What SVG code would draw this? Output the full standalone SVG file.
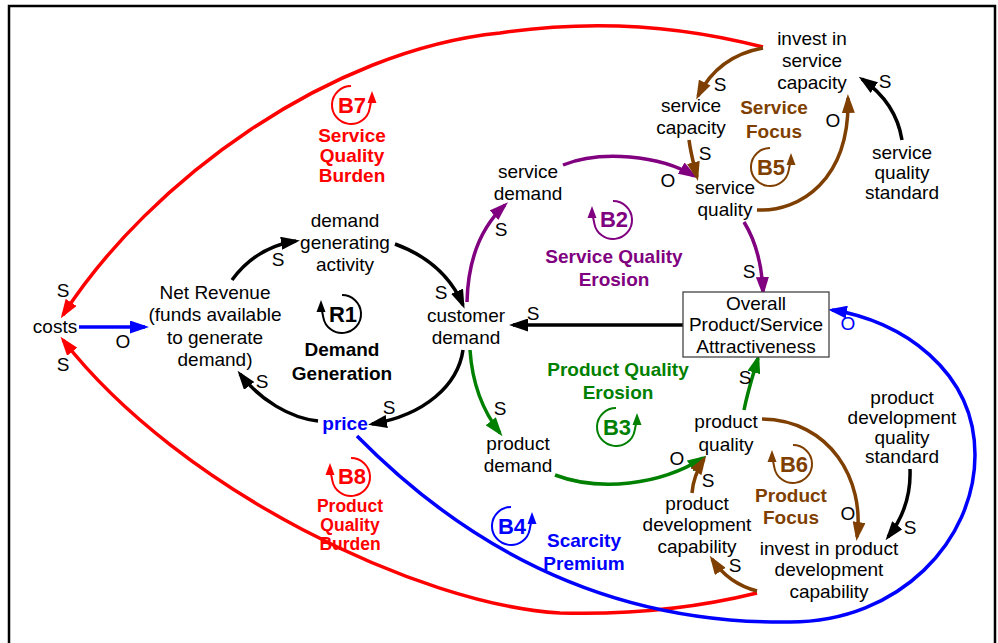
<svg xmlns="http://www.w3.org/2000/svg" width="998" height="643" viewBox="0 0 998 643">
<defs>
<style>
text{font-family:"Liberation Sans",Arial,Helvetica,sans-serif;text-anchor:middle}
.n{font-size:19px;fill:#000}
.b{font-size:19px;font-weight:bold}
.s{font-size:17.5px;font-weight:bold}
.ic{font-size:22px;font-weight:bold}
.c{fill:none;stroke-width:3.5}
.lp{fill:none;stroke-width:2}
.k{stroke:#000}.r{stroke:#FF0000}.u{stroke:#0000FF}.pu{stroke:#800080}.g{stroke:#008000}.br{stroke:#7F3F00}
.fk{fill:#000}.fr{fill:#FF0000}.fu{fill:#0000FF}.fp{fill:#800080}.fg{fill:#008000}.fb{fill:#7F3F00}
</style>
<marker id="ak" markerWidth="19" markerHeight="13" refX="15" refY="6.5" orient="auto" markerUnits="userSpaceOnUse"><path d="M0,0 L19,6.5 L0,13 z" fill="#000"/></marker>
<marker id="ar" markerWidth="19" markerHeight="13" refX="15" refY="6.5" orient="auto" markerUnits="userSpaceOnUse"><path d="M0,0 L19,6.5 L0,13 z" fill="#FF0000"/></marker>
<marker id="au" markerWidth="19" markerHeight="13" refX="15" refY="6.5" orient="auto" markerUnits="userSpaceOnUse"><path d="M0,0 L19,6.5 L0,13 z" fill="#0000FF"/></marker>
<marker id="ap" markerWidth="19" markerHeight="13" refX="15" refY="6.5" orient="auto" markerUnits="userSpaceOnUse"><path d="M0,0 L19,6.5 L0,13 z" fill="#800080"/></marker>
<marker id="ag" markerWidth="19" markerHeight="13" refX="15" refY="6.5" orient="auto" markerUnits="userSpaceOnUse"><path d="M0,0 L19,6.5 L0,13 z" fill="#008000"/></marker>
<marker id="ab" markerWidth="19" markerHeight="13" refX="15" refY="6.5" orient="auto" markerUnits="userSpaceOnUse"><path d="M0,0 L19,6.5 L0,13 z" fill="#7F3F00"/></marker>
</defs>
<rect x="0" y="0" width="998" height="643" fill="#fff"/>
<rect x="9" y="6" width="986" height="680" fill="none" stroke="#000" stroke-width="2.5"/>

<g id="connectors">
<path class="c k" d="M232 280 C248 258 270 245 296 241" marker-end="url(#ak)"/>
<path class="c k" d="M395 244 C425 255 450 275 463 305" marker-end="url(#ak)"/>
<path class="c k" d="M463 350 C458 385 425 415 372 424" marker-end="url(#ak)"/>
<path class="c k" d="M318 421 C290 418 260 400 240 374" marker-end="url(#ak)"/>
<path class="c k" d="M683 325 L513 325" marker-end="url(#ak)"/>
<path class="c k" d="M902 140 C898 115 885 95 862 79" marker-end="url(#ak)"/>
<path class="c k" d="M910 469 C911 495 903 518 888 537" marker-end="url(#ak)"/>
<path class="c r" d="M763 47 C690 28 600 18 500 33 C330 50 150 180 63 315" marker-end="url(#ar)"/>
<path class="c r" d="M757 593 C700 607 630 615 560 613 C420 605 180 490 63 340" marker-end="url(#ar)"/>
<path class="c u" d="M79 327 L145 327" marker-end="url(#au)"/>
<path class="c u" d="M357 436 C420 500 560 625 790 622 C900 622 975 540 975 455 C975 370 900 320 832 310" marker-end="url(#au)"/>
<path class="c pu" d="M467 302 C468 260 480 228 505 205" marker-end="url(#ap)"/>
<path class="c pu" d="M563 165 C600 150 660 155 694 176" marker-end="url(#ap)"/>
<path class="c pu" d="M744 222 C755 240 762 265 763 292" marker-end="url(#ap)"/>
<path class="c g" d="M470 350 C472 380 482 410 500 433" marker-end="url(#ag)"/>
<path class="c g" d="M555 475 C600 492 660 485 703 458" marker-end="url(#ag)"/>
<path class="c g" d="M744 410 C748 390 754 372 758 358" marker-end="url(#ag)"/>
<path class="c br" d="M763 48 C735 53 712 68 698 96" marker-end="url(#ab)"/>
<path class="c br" d="M689 140 C691 155 694 165 697 177" marker-end="url(#ab)"/>
<path class="c br" d="M757 210 C800 212 850 180 848 98" marker-end="url(#ab)"/>
<path class="c br" d="M762 419 C830 420 865 480 857 537" marker-end="url(#ab)"/>
<path class="c br" d="M757 591 C738 586 722 574 712 559" marker-end="url(#ab)"/>
<path class="c br" d="M692 493 C693 480 697 470 704 459" marker-end="url(#ab)"/>
</g>

<g id="polarities" class="n">
<text x="63" y="297">S</text>
<text x="63" y="371">S</text>
<text x="123" y="348">O</text>
<text x="278" y="266">S</text>
<text x="441" y="299">S</text>
<text x="389" y="414">S</text>
<text x="262" y="388">S</text>
<text x="533" y="320">S</text>
<text x="501" y="236">S</text>
<text x="668" y="187">O</text>
<text x="749" y="278">S</text>
<text x="500" y="415">S</text>
<text x="677" y="465">O</text>
<text x="745" y="384">S</text>
<text x="720" y="91">S</text>
<text x="705" y="160">S</text>
<text x="833" y="127">O</text>
<text x="885" y="88">S</text>
<text x="848" y="520">O</text>
<text x="910" y="534">S</text>
<text x="735" y="572">S</text>
<text x="708" y="487">S</text>
<text x="848" y="330" fill="#0000FF">O</text>
</g>

<g id="costs"><text class="n" x="55" y="333">costs</text></g>
<g id="net_revenue"><text class="n" x="215" y="299">Net Revenue</text><text class="n" x="215" y="321">(funds available</text><text class="n" x="215" y="344">to generate</text><text class="n" x="215" y="366">demand)</text></g>
<g id="demand_generating_activity"><text class="n" x="345" y="227">demand</text><text class="n" x="345" y="249">generating</text><text class="n" x="345" y="271">activity</text></g>
<g id="customer_demand"><text class="n" x="466" y="322">customer</text><text class="n" x="466" y="344">demand</text></g>
<g id="price"><text class="b" x="345" y="430" fill="#0000FF">price</text></g>
<g id="service_demand"><text class="n" x="528" y="178">service</text><text class="n" x="528" y="200">demand</text></g>
<g id="service_quality"><text class="n" x="725" y="194">service</text><text class="n" x="725" y="216">quality</text></g>
<g id="service_capacity"><text class="n" x="691" y="112">service</text><text class="n" x="691" y="134">capacity</text></g>
<g id="invest_service_capacity"><text class="n" x="812" y="45">invest in</text><text class="n" x="812" y="67">service</text><text class="n" x="812" y="89">capacity</text></g>
<g id="service_quality_standard"><text class="n" x="902" y="159">service</text><text class="n" x="902" y="179">quality</text><text class="n" x="902" y="199">standard</text></g>
<g id="attractiveness"><rect x="683" y="292" width="146" height="65" fill="#fff" stroke="#444" stroke-width="1.3"/><text class="n" x="756" y="310">Overall</text><text class="n" x="756" y="331">Product/Service</text><text class="n" x="756" y="353">Attractiveness</text></g>
<g id="product_demand"><text class="n" x="518" y="450">product</text><text class="n" x="518" y="472">demand</text></g>
<g id="product_quality"><text class="n" x="726" y="428">product</text><text class="n" x="726" y="451">quality</text></g>
<g id="product_development_capability"><text class="n" x="697" y="510">product</text><text class="n" x="697" y="531">development</text><text class="n" x="697" y="553">capability</text></g>
<g id="invest_product_development"><text class="n" x="829" y="555">invest in product</text><text class="n" x="829" y="576">development</text><text class="n" x="829" y="598">capability</text></g>
<g id="product_dev_quality_standard"><text class="n" x="902" y="404">product</text><text class="n" x="902" y="424">development</text><text class="n" x="902" y="444">quality</text><text class="n" x="902" y="463">standard</text></g>

<g id="loop_B7">
<path class="lp r" d="M351 86 A19 19 0 1 0 369.7 108.3 L371 102"/>
<polygon class="fr" points="372,91 367.5,103 376.5,103"/>
<text class="ic fr" x="352" y="113">B7</text>
<text class="b fr" x="352" y="142">Service</text><text class="b fr" x="352" y="162">Quality</text><text class="b fr" x="352" y="182">Burden</text>
</g>
<g id="loop_R1">
<path class="lp k" d="M342 295 A19 19 0 1 1 323.3 317.3 L322 311"/>
<polygon class="fk" points="321,300 316.5,312 325.5,312"/>
<text class="ic fk" x="343" y="322">R1</text>
<text class="b fk" x="342" y="356">Demand</text><text class="b fk" x="342" y="380">Generation</text>
</g>
<g id="loop_B2">
<path class="lp pu" d="M613 201 A19 19 0 1 1 594.3 223.3 L593 217"/>
<polygon class="fp" points="592,206 587.5,218 596.5,218"/>
<text class="ic fp" x="614" y="227">B2</text>
<text class="b fp" x="614" y="263">Service Quality</text><text class="b fp" x="614" y="286">Erosion</text>
</g>
<g id="loop_B3">
<path class="lp g" d="M616 408 A19 19 0 1 0 634.7 430.3 L636 424"/>
<polygon class="fg" points="637,413 632.5,425 641.5,425"/>
<text class="ic fg" x="617" y="435">B3</text>
<text class="b fg" x="618" y="376">Product Quality</text><text class="b fg" x="618" y="399">Erosion</text>
</g>
<g id="loop_B5">
<path class="lp br" d="M770 148 A19 19 0 1 0 788.7 170.3 L790 164"/>
<polygon class="fb" points="791,153 786.5,165 795.5,165"/>
<text class="ic fb" x="771" y="175">B5</text>
<text class="b fb" x="774" y="114">Service</text><text class="b fb" x="774" y="138">Focus</text>
</g>
<g id="loop_B6">
<path class="lp br" d="M793 445 A19 19 0 1 1 774.3 467.3 L773 461"/>
<polygon class="fb" points="772,450 767.5,462 776.5,462"/>
<text class="ic fb" x="794" y="472">B6</text>
<text class="b fb" x="791" y="502">Product</text><text class="b fb" x="791" y="524">Focus</text>
</g>
<g id="loop_B4">
<path class="lp u" d="M511 507 A19 19 0 1 0 529.7 529.3 L531 523"/>
<polygon class="fu" points="532,512 527.5,524 536.5,524"/>
<text class="ic fu" x="512" y="534">B4</text>
<text class="b fu" x="584" y="547">Scarcity</text><text class="b fu" x="584" y="570">Premium</text>
</g>
<g id="loop_B8">
<path class="lp r" d="M351 458 A19 19 0 1 1 332.3 480.3 L331 474"/>
<polygon class="fr" points="330,463 325.5,475 334.5,475"/>
<text class="ic fr" x="352" y="484">B8</text>
<text class="s fr" x="350" y="512">Product</text><text class="s fr" x="350" y="531">Quality</text><text class="s fr" x="350" y="550">Burden</text>
</g>
</svg>
